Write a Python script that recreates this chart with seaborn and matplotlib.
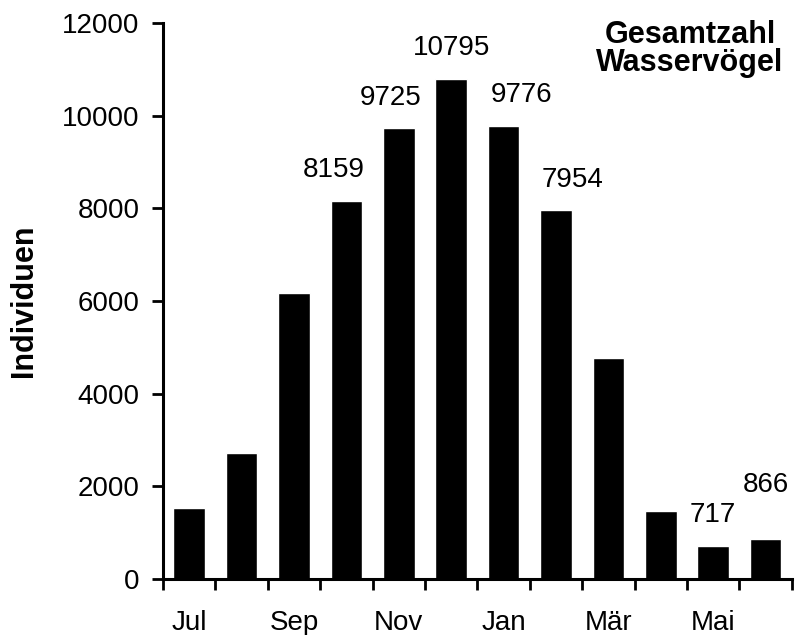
"""
Monthly total of waterbirds (Gesamtzahl Wasservögel), bar chart.
"""

import numpy as np
import matplotlib
matplotlib.use("Agg")
import matplotlib.pyplot as plt
import seaborn as sns

sns.set_style("ticks")
plt.rcParams["font.family"] = ["Liberation Sans", "DejaVu Sans"]
plt.rcParams["text.color"] = "black"
plt.rcParams["axes.labelcolor"] = "black"

months = ["Jul", "Aug", "Sep", "Okt", "Nov", "Dez",
          "Jan", "Feb", "Mär", "Apr", "Mai", "Jun"]
counts = [1540, 2710, 6180, 8159, 9725, 10795,
          9776, 7954, 4780, 1470, 717, 866]
# which bars carry a value label
labelled = [False, False, False, True, True, True,
            True, True, False, False, True, True]
shown_months = ["Jul", "Sep", "Nov", "Jan", "Mär", "Mai"]

# label nudges (points) to mimic the original placement
label_dx = [0, 0, 0, -9, -6, 0, 13, 12, 0, 0, 0, 0]
label_dy = [17, 17, 17, 17, 17, 17, 17, 17, 17, 17, 17, 34]

fig = plt.figure(figsize=(7.95, 6.35), dpi=100)
ax = fig.add_axes([0.205, 0.088, 0.791, 0.876])

sns.barplot(x=months, y=counts, color="black", saturation=1,
            width=0.6, ax=ax)

for i, (v, lab) in enumerate(zip(counts, labelled)):
    if lab:
        ax.annotate(f"{v}", xy=(i, v), xytext=(label_dx[i], label_dy[i]),
                    textcoords="offset points", ha="center", va="baseline",
                    fontsize=20, color="black")

ax.set_xlim(-0.5, len(months) - 0.5)
ax.set_ylim(0, 12000)
ax.set_yticks(np.arange(0, 12001, 2000))

# major ticks at category borders, labels on every other bar
ax.set_xticks(np.arange(-0.5, len(months)), labels=[""] * (len(months) + 1))
ax.set_xticks([months.index(m) for m in shown_months], labels=shown_months,
              minor=True)
ax.tick_params(axis="x", which="major", length=8, width=2, color="black")
ax.tick_params(axis="x", which="minor", length=0, pad=22, labelsize=20,
               labelcolor="black")
ax.tick_params(axis="y", length=8, width=2, pad=9, labelsize=20,
               color="black", labelcolor="black")

ax.set_xlabel("")
ax.set_ylabel("Individuen", fontsize=22, fontweight="bold")
ax.yaxis.set_label_coords(-0.197, 0.5)

for side in ["top", "right"]:
    ax.spines[side].set_visible(False)
for side in ["left", "bottom"]:
    ax.spines[side].set_linewidth(2.2)
    ax.spines[side].set_color("black")

fig.text(0.868, 0.968, "Gesamtzahl\nWasservögel", ha="center", va="top",
         fontsize=22, fontweight="bold", linespacing=0.9)

plt.savefig("out.png", dpi=100)
plt.close()
